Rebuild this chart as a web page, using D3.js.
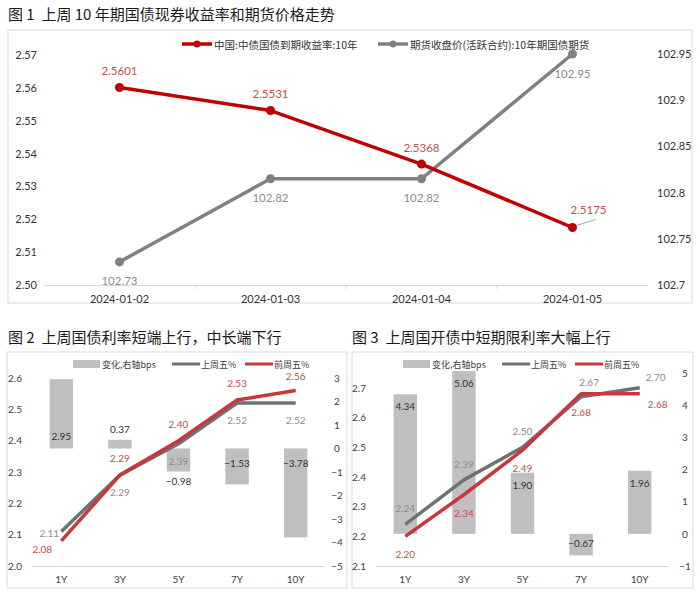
<!DOCTYPE html>
<html>
<head>
<meta charset="utf-8">
<script src="https://cdn.jsdelivr.net/npm/d3@7"></script>
<style>
  body { margin: 0; background: #fff; }
  text { white-space: pre; }
</style>
</head>
<body>
<script>
const CJK = '"Noto Sans CJK SC", "Noto Sans", sans-serif';
const NUM = 'Lato, "Noto Sans", sans-serif';

// fig 1
const dates = ['2024-01-02', '2024-01-03', '2024-01-04', '2024-01-05'];
const yield10y = [2.5601, 2.5531, 2.5368, 2.5175];
const futures = [102.725, 102.815, 102.815, 102.95];
const yieldTicks = [2.50, 2.51, 2.52, 2.53, 2.54, 2.55, 2.56, 2.57];
const futTicks = [102.7, 102.75, 102.8, 102.85, 102.9, 102.95];

// fig 2 / fig 3
const tenors = ['1Y', '3Y', '5Y', '7Y', '10Y'];
const govChange = [2.95, 0.37, -0.98, -1.53, -3.78];
const govLastFri = [2.11, 2.29, 2.39, 2.52, 2.52];
const govPrevFri = [2.08, 2.29, 2.40, 2.53, 2.56];
const cdbChange = [4.34, 5.06, 1.90, -0.67, 1.96];
const cdbLastFri = [2.24, 2.39, 2.50, 2.67, 2.70];
const cdbPrevFri = [2.20, 2.34, 2.49, 2.68, 2.68];

const svg = d3.select('body').append('svg')
  .attr('width', 700)
  .attr('height', 596);

svg.append('rect').attr('width', 700).attr('height', 596).attr('fill', '#fff');

function panel(x, y, w, h) {
  svg.append('rect')
    .attr('x', x).attr('y', y)
    .attr('width', w).attr('height', h)
    .attr('fill', '#fff')
    .attr('stroke', '#d9d9d9');
}

function title(x, y, s) {
  svg.append('text')
    .attr('x', x).attr('y', y)
    .attr('font-family', CJK)
    .attr('font-size', 15)
    .attr('fill', '#1a1a1a')
    .text(s);
}

function round2(v) {
  return (Math.round(v * 100 + 1e-6) / 100).toFixed(2);
}

function styleAxis(g, size, color) {
  g.select('.domain').remove();
  g.selectAll('text')
    .attr('font-family', NUM)
    .attr('font-size', size)
    .attr('fill', color);
}

// ---------- fig 1 ----------
title(8, 20, '图 1  上周 10 年期国债现券收益率和期货价格走势');
panel(8, 30, 684, 273);

const x1 = d3.scaleBand().domain(dates).range([44, 648]);
const yL1 = d3.scaleLinear().domain([2.50, 2.57]).range([285, 55]);
const yR1 = d3.scaleLinear().domain([102.7, 102.95]).range([285, 54]);
const cx1 = d => x1(d) + x1.bandwidth() / 2;

svg.append('g')
  .attr('transform', 'translate(37,0)')
  .call(d3.axisLeft(yL1).tickValues(yieldTicks).tickSize(0).tickPadding(0).tickFormat(d3.format('.2f')))
  .call(g => styleAxis(g, 11, '#333'));

svg.append('g')
  .attr('transform', 'translate(655,0)')
  .call(d3.axisRight(yR1).tickValues(futTicks).tickSize(0).tickPadding(2).tickFormat(d3.format('.2~f')))
  .call(g => styleAxis(g, 11, '#333'));

svg.append('line')
  .attr('x1', 44).attr('x2', 648)
  .attr('y1', 285.5).attr('y2', 285.5)
  .attr('stroke', '#d9d9d9');

svg.append('g').selectAll('line')
  .data(dates.slice(1))
  .join('line')
  .attr('x1', d => x1(d)).attr('x2', d => x1(d))
  .attr('y1', 285).attr('y2', 289)
  .attr('stroke', '#d9d9d9');

svg.append('g').selectAll('text')
  .data(dates)
  .join('text')
  .attr('x', cx1)
  .attr('y', 298)
  .attr('text-anchor', 'middle')
  .attr('dominant-baseline', 'central')
  .attr('font-family', NUM)
  .attr('font-size', 11)
  .attr('fill', '#333')
  .text(d => d);

function seriesTop(values, y, color, labelColor, dy, fmt) {
  const pts = values.map((v, i) => [cx1(dates[i]), y(v)]);
  svg.append('path')
    .attr('d', d3.line()(pts))
    .attr('fill', 'none')
    .attr('stroke', color)
    .attr('stroke-width', 3.5)
    .attr('stroke-linejoin', 'round');
  svg.append('g').selectAll('circle')
    .data(pts)
    .join('circle')
    .attr('cx', d => d[0]).attr('cy', d => d[1])
    .attr('r', 4.5)
    .attr('fill', color);
  return svg.append('g').selectAll('text')
    .data(values)
    .join('text')
    .attr('x', (d, i) => pts[i][0])
    .attr('y', (d, i) => pts[i][1] + dy)
    .attr('text-anchor', 'middle')
    .attr('dominant-baseline', 'central')
    .attr('font-family', NUM)
    .attr('font-size', 11.5)
    .attr('fill', labelColor)
    .text(fmt);
}

seriesTop(futures, yR1, '#808080', '#8c8c8c', 19, round2);
const yLabels = seriesTop(yield10y, yL1, '#c00000', '#c0504d', -17, d3.format('.4f'));

// last yield label is pushed right with a leader line
const lastX = cx1(dates[3]), lastY = yL1(yield10y[3]);
yLabels.filter((d, i) => i === 3)
  .attr('x', lastX + 16)
  .attr('y', lastY - 18);
svg.append('line')
  .attr('x1', lastX + 4).attr('y1', lastY - 2)
  .attr('x2', lastX + 23).attr('y2', lastY - 8)
  .attr('stroke', '#a6a6a6');

function legendLine(x, y, color, label, marker, size) {
  svg.append('line')
    .attr('x1', x).attr('x2', x + 30)
    .attr('y1', y).attr('y2', y)
    .attr('stroke', color)
    .attr('stroke-width', 3.5);
  if (marker) {
    svg.append('circle').attr('cx', x + 15).attr('cy', y).attr('r', 3.5).attr('fill', color);
  }
  svg.append('text')
    .attr('x', x + 32).attr('y', y)
    .attr('dominant-baseline', 'central')
    .attr('font-family', CJK)
    .attr('font-size', size)
    .attr('fill', '#333')
    .text(label);
}

legendLine(182, 44, '#c00000', '中国:中债国债到期收益率:10年', true, 10.5);
legendLine(378, 44, '#808080', '期货收盘价(活跃合约):10年期国债期货', true, 10.5);

// ---------- fig 2 / fig 3 ----------
const GRAY = '#6e7274', RED = '#c7373b';

function drawCurve(cfg) {
  const base = 566;
  const x = d3.scaleBand().domain(tenors).range(cfg.xRange);
  const yL = d3.scaleLinear().domain(cfg.leftDomain).range([base, cfg.top]);
  const yR = d3.scaleLinear().domain(cfg.rightDomain).range([base, cfg.top]);
  const cx = d => x(d) + x.bandwidth() / 2;

  svg.append('g')
    .attr('transform', `translate(${cfg.leftAxisX},0)`)
    .call(d3.axisLeft(yL).ticks(cfg.leftTicks).tickSize(0).tickPadding(0).tickFormat(d3.format('.1f')))
    .call(g => styleAxis(g, 10, '#404040'));

  svg.append('g')
    .attr('transform', `translate(${cfg.rightAxisX},0)`)
    .call(d3.axisRight(yR).ticks(cfg.rightTicks).tickSize(0).tickPadding(0).tickFormat(d3.format('d')))
    .call(g => styleAxis(g, 10, '#404040'))
    .call(g => g.selectAll('text').attr('text-anchor', 'middle'));

  svg.append('line')
    .attr('x1', cfg.xRange[0]).attr('x2', cfg.xRange[1])
    .attr('y1', base + 0.5).attr('y2', base + 0.5)
    .attr('stroke', '#d9d9d9');

  svg.append('g').selectAll('text')
    .data(tenors)
    .join('text')
    .attr('x', cx)
    .attr('y', base + 13)
    .attr('text-anchor', 'middle')
    .attr('dominant-baseline', 'central')
    .attr('font-family', NUM)
    .attr('font-size', 10)
    .attr('fill', '#404040')
    .text(d => d);

  // bars on the right axis
  const bw = x.bandwidth() * 0.4;
  svg.append('g').selectAll('rect')
    .data(cfg.change)
    .join('rect')
    .attr('x', (d, i) => cx(tenors[i]) - bw / 2)
    .attr('y', d => Math.min(yR(0), yR(d)))
    .attr('width', bw)
    .attr('height', d => Math.abs(yR(d) - yR(0)))
    .attr('fill', '#bfbfbf');

  svg.append('g').selectAll('text')
    .data(cfg.change)
    .join('text')
    .attr('x', (d, i) => cx(tenors[i]))
    .attr('y', d => {
      const h = Math.abs(yR(d) - yR(0));
      if (cfg.barLabel === 'end') return d >= 0 ? yR(d) + 12 : yR(d) - 12;
      if (h < 30) return d >= 0 ? yR(d) - 11 : yR(d) + 9;
      return d >= 0 ? yR(0) - 13 : yR(0) + 14;
    })
    .attr('text-anchor', 'middle')
    .attr('dominant-baseline', 'central')
    .attr('font-family', NUM)
    .attr('font-size', 10)
    .attr('fill', '#333')
    .text(d3.format('.2f'));

  const lines = [
    {values: cfg.last, color: GRAY, label: '#8c8c8c', off: cfg.lastOff},
    {values: cfg.prev, color: RED, label: '#c0504d', off: cfg.prevOff}
  ];
  lines.forEach(s => {
    const pts = s.values.map((v, i) => [cx(tenors[i]), yL(v)]);
    svg.append('path')
      .attr('d', d3.line()(pts))
      .attr('fill', 'none')
      .attr('stroke', s.color)
      .attr('stroke-width', 3.5)
      .attr('stroke-linejoin', 'round');
  });
  lines.forEach(s => {
    svg.append('g').selectAll('text')
      .data(s.values)
      .join('text')
      .attr('x', (d, i) => cx(tenors[i]) + s.off(i)[0])
      .attr('y', (d, i) => yL(d) + s.off(i)[1])
      .attr('text-anchor', 'middle')
      .attr('dominant-baseline', 'central')
      .attr('font-family', NUM)
      .attr('font-size', 10)
      .attr('fill', s.label)
      .text(d3.format('.2f'));
  });

  // legend
  const lx = cfg.legendX, ly = 364;
  svg.append('rect')
    .attr('x', lx).attr('y', ly - 4)
    .attr('width', 27).attr('height', 8)
    .attr('fill', '#bfbfbf');
  const legendText = (x, s) => svg.append('text')
    .attr('x', x).attr('y', ly)
    .attr('dominant-baseline', 'central')
    .attr('font-family', CJK)
    .attr('font-size', 9)
    .attr('fill', '#404040')
    .text(s);
  legendText(lx + 29, '变化,右轴bps');
  [[GRAY, '上周五%', 99], [RED, '前周五%', 172]].forEach(([c, s, dx]) => {
    svg.append('line')
      .attr('x1', lx + dx).attr('x2', lx + dx + 28)
      .attr('y1', ly).attr('y2', ly)
      .attr('stroke', c)
      .attr('stroke-width', 3);
    legendText(lx + dx + 29, s);
  });
}

title(8, 343, '图 2  上周国债利率短端上行，中长端下行');
panel(7, 352, 340, 236);
drawCurve({
  xRange: [32, 325], top: 378,
  leftDomain: [2.0, 2.6], leftTicks: 6, leftAxisX: 22,
  rightDomain: [-5, 3], rightTicks: 8, rightAxisX: 337,
  change: govChange, last: govLastFri, prev: govPrevFri,
  barLabel: 'base',
  lastOff: i => i === 0 ? [-12, 1] : [0, 17],
  prevOff: i => i === 0 ? [-19, 8] : i === 4 ? [0, -15] : [0, -17],
  legendX: 73
});

title(352, 343, '图 3  上周国开债中短期限利率大幅上行');
panel(352, 352, 341, 236);
drawCurve({
  xRange: [376, 669], top: 373,
  leftDomain: [2.1, 2.75], leftTicks: 7, leftAxisX: 366,
  rightDomain: [-1, 5], rightTicks: 6, rightAxisX: 685,
  change: cdbChange, last: cdbLastFri, prev: cdbPrevFri,
  barLabel: 'end',
  lastOff: i => i === 4 ? [16, -11] : i === 3 ? [8, -15] : [0, -16],
  prevOff: i => i === 4 ? [18, 10] : [0, 18],
  legendX: 403
});
</script>
</body>
</html>
